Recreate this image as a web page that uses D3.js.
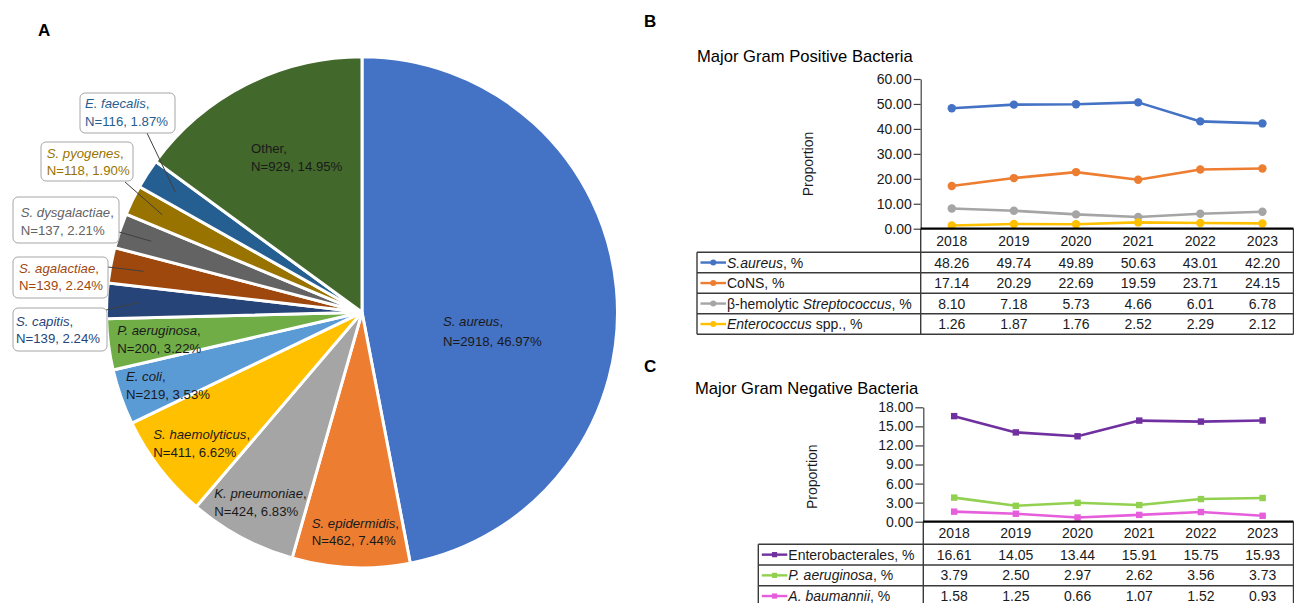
<!DOCTYPE html>
<html><head><meta charset="utf-8">
<script src="https://cdn.jsdelivr.net/npm/d3@7"></script>
<style>
body{margin:0;background:#fff;}
svg{display:block;font-family:"Liberation Sans",Arial,sans-serif;}
</style></head><body>
<svg id="chart" width="1294" height="603"></svg>
<script>
// ---------------- DATA ----------------
const pieNames = ["S. aureus","S. epidermidis","K. pneumoniae","S. haemolyticus","E. coli","P. aeruginosa","S. capitis","S. agalactiae","S. dysgalactiae","S. pyogenes","E. faecalis","Other"];
const pieCounts = [2918,462,424,411,219,200,139,139,137,118,116,929];
const piePercents = ["46.97","7.44","6.83","6.62","3.53","3.22","2.24","2.24","2.21","1.90","1.87","14.95"];
const pieItalic = [1,1,1,1,1,1,1,1,1,1,1,0];

const years = ["2018","2019","2020","2021","2022","2023"];

const gpSAureus = [48.26,49.74,49.89,50.63,43.01,42.20];
const gpCoNS = [17.14,20.29,22.69,19.59,23.71,24.15];
const gpBetaStrep = [8.10,7.18,5.73,4.66,6.01,6.78];
const gpEnterococcus = [1.26,1.87,1.76,2.52,2.29,2.12];
const gpTicks = [0,10,20,30,40,50,60];

const gnEnterobacterales = [16.61,14.05,13.44,15.91,15.75,15.93];
const gnPAeruginosa = [3.79,2.50,2.97,2.62,3.56,3.73];
const gnABaumannii = [1.58,1.25,0.66,1.07,1.52,0.93];
const gnTicks = [0,3,6,9,12,15,18];

// row labels as [text, italic] segments
const gpLabels = [
  [["S.aureus",1],[", %",0]],
  [["CoNS, %",0]],
  [["β-hemolytic ",0],["Streptococcus",1],[", %",0]],
  [["Enterococcus",1],[" spp., %",0]]
];
const gnLabels = [
  [["Enterobacterales, %",0]],
  [["P. aeruginosa",1],[", %",0]],
  [["A. baumannii",1],[", %",0]]
];

// ---------------- STYLE / LAYOUT ----------------
const pieColors = ["#4472C4","#ED7D31","#A5A5A5","#FFC000","#5B9BD5","#70AD47","#264478","#9E480E","#636363","#997300","#255E91","#43682B"];
const gpColors = ["#4472C4","#ED7D31","#A5A5A5","#FFC000"];
const gnColors = ["#7030A0","#92D050","#E65EDB"];
const textColor = "#1a1a1a";

// inside labels: [x, center line1, center line2]
const insideLabelPos = {
  0:[443,321,341], 1:[311.7,523.3,540.5], 2:[214.3,493.3,511], 3:[153.3,434,452],
  4:[126,376.7,394.5], 5:[117.3,330,348], 11:[251,148.3,166.7]
};
// callouts: box [x,y,w,h], text x, centers, leader start
const calloutPos = {
  10:{box:[80,93,95,40], tx:85, c:[103.3,121.7], ls:[147,133]},
  9:{box:[41,142,92,39], tx:46.7, c:[153.3,170.7], ls:[125,182]},
  8:{box:[13,197,106,46], tx:20.7, c:[212.3,230], ls:[119,232]},
  7:{box:[13,257,95,41], tx:19, c:[268.3,285], ls:[108,267]},
  6:{box:[13,308,94,43], tx:16, c:[321.7,338.3], ls:[106,310]}
};

const svg = d3.select("#chart");

// panel letters
[["A",38,36],["B",644,27],["C",644,372]].forEach(([t,x,y])=>{
  svg.append("text").attr("x",x).attr("y",y).attr("font-size",17).attr("font-weight","bold").attr("fill","#000").text(t);
});

// ---------------- PIE ----------------
const cx = 362, cy = 312.3, R = 255.5;
const pie = d3.pie().sort(null).value(d=>d)(pieCounts);
const arc = d3.arc().innerRadius(0).outerRadius(R);
const gPie = svg.append("g").attr("transform",`translate(${cx},${cy})`);
gPie.selectAll("path").data(pie).join("path")
  .attr("d",arc).attr("fill",(d,i)=>pieColors[i])
  .attr("stroke","#fff").attr("stroke-width",3).attr("stroke-linejoin","miter");

function twoLine(g, x, c1, c2, i, color, fs){
  const t1 = g.append("text").attr("x",x).attr("y",c1+4.7).attr("font-size",fs).attr("fill",color);
  if (pieItalic[i]) { t1.append("tspan").attr("font-style","italic").text(pieNames[i]); t1.append("tspan").text(","); }
  else t1.text(pieNames[i]+",");
  g.append("text").attr("x",x).attr("y",c2+4.7).attr("font-size",fs).attr("fill",color)
    .text(`N=${pieCounts[i]}, ${piePercents[i]}%`);
}
Object.entries(insideLabelPos).forEach(([k,p])=>{
  twoLine(svg, p[0], p[1], p[2], +k, textColor, 13.2);
});
Object.entries(calloutPos).forEach(([k,p])=>{
  const i = +k;
  const d = pie[i];
  const a = (d.startAngle+d.endAngle)/2;
  const rr = R*0.87;
  const ex = cx + rr*Math.sin(a), ey = cy - rr*Math.cos(a);
  svg.append("line").attr("x1",p.ls[0]).attr("y1",p.ls[1]).attr("x2",ex).attr("y2",ey)
    .attr("stroke","#404040").attr("stroke-width",1);
  svg.append("rect").attr("x",p.box[0]).attr("y",p.box[1]).attr("width",p.box[2]).attr("height",p.box[3])
    .attr("rx",5).attr("fill","#fff").attr("stroke","#a6a6a6").attr("stroke-width",1);
  twoLine(svg, p.tx, p.c[0], p.c[1], i, pieColors[i], 13.2);
});

// ---------------- LINE + TABLE PANELS ----------------
function panel(cfg){
  const g = svg.append("g");
  g.append("text").attr("x",cfg.titleX).attr("y",cfg.titleY).attr("font-size",16.6).attr("fill","#000").text(cfg.title);
  const x = d3.scaleBand().domain(years).range([cfg.x0,cfg.x1]).paddingInner(0).paddingOuter(0);
  const y = d3.scaleLinear().domain([0,cfg.ticks[cfg.ticks.length-1]]).range([cfg.y0,cfg.y1]);
  const xc = d => x(d)+x.bandwidth()/2;

  // y axis
  const ax = g.append("g").attr("transform",`translate(${cfg.x0},0)`)
    .call(d3.axisLeft(y).tickValues(cfg.ticks).tickFormat(d3.format(".2f")).tickSize(cfg.tickSize).tickSizeOuter(0).tickPadding(2));
  ax.select(".domain").attr("stroke","#404040").attr("stroke-width",1.2);
  ax.selectAll(".tick line").attr("stroke","#404040").attr("stroke-width",1.2);
  ax.selectAll(".tick text").attr("font-size",14).attr("fill",textColor).attr("font-family","Liberation Sans, Arial, sans-serif");

  g.append("text").attr("transform",`translate(${cfg.propX},${cfg.propY}) rotate(-90)`)
    .attr("text-anchor","middle").attr("dominant-baseline","central").attr("font-size",14).attr("fill",textColor).text("Proportion");

  // series
  cfg.series.forEach((vals,si)=>{
    const pts = years.map((yr,j)=>[xc(yr), y(vals[j])]);
    g.append("path").attr("d",d3.line()(pts)).attr("fill","none").attr("stroke",cfg.colors[si])
      .attr("stroke-width",2.6).attr("stroke-linejoin","round");
    if (cfg.marker==="circle"){
      g.selectAll(null).data(pts).join("circle").attr("cx",d=>d[0]).attr("cy",d=>d[1]).attr("r",4.2).attr("fill",cfg.colors[si]);
    } else {
      g.selectAll(null).data(pts).join("rect").attr("x",d=>d[0]-3.2).attr("y",d=>d[1]-3.2).attr("width",6.4).attr("height",6.4).attr("fill",cfg.colors[si]);
    }
  });

  // table
  const hdrBot = cfg.y0 + cfg.hdrH;
  const nRows = cfg.series.length;
  const rowY = i => hdrBot + i*cfg.rowH;
  const lineCol = "#3a3a3a";
  years.forEach(yr=>{
    g.append("text").attr("x",xc(yr)).attr("y",cfg.y0+cfg.hdrH/2+5).attr("text-anchor","middle")
      .attr("font-size",14).attr("fill",textColor).text(yr);
  });
  for (let i=0;i<=nRows;i++){
    g.append("line").attr("x1",cfg.tableX0).attr("x2",cfg.x1).attr("y1",rowY(i)).attr("y2",rowY(i))
      .attr("stroke",lineCol).attr("stroke-width",1.4);
  }
  g.append("line").attr("x1",cfg.x0).attr("x2",cfg.x0).attr("y1",cfg.y0).attr("y2",rowY(nRows)).attr("stroke",lineCol).attr("stroke-width",1.4);
  g.append("line").attr("x1",cfg.x1).attr("x2",cfg.x1).attr("y1",cfg.y0).attr("y2",rowY(nRows)).attr("stroke",lineCol).attr("stroke-width",1.4);
  g.append("line").attr("x1",cfg.tableX0).attr("x2",cfg.tableX0).attr("y1",hdrBot).attr("y2",rowY(nRows)).attr("stroke",lineCol).attr("stroke-width",1.4);
  // x axis line (top of table)
  g.append("line").attr("x1",cfg.x0).attr("x2",cfg.x1).attr("y1",cfg.y0).attr("y2",cfg.y0).attr("stroke","#000").attr("stroke-width",2.2);

  cfg.series.forEach((vals,si)=>{
    const cyr = rowY(si)+cfg.rowH/2;
    // legend key
    const lx0 = cfg.tableX0+3.5, lx1 = cfg.tableX0+29;
    g.append("line").attr("x1",lx0).attr("x2",lx1).attr("y1",cyr).attr("y2",cyr).attr("stroke",cfg.colors[si]).attr("stroke-width",2.4);
    const mx = (lx0+lx1)/2;
    if (cfg.marker==="circle") g.append("circle").attr("cx",mx).attr("cy",cyr).attr("r",3).attr("fill",cfg.colors[si]);
    else g.append("rect").attr("x",mx-2.6).attr("y",cyr-2.6).attr("width",5.2).attr("height",5.2).attr("fill",cfg.colors[si]);
    const t = g.append("text").attr("x",cfg.tableX0+30).attr("y",cyr+5).attr("font-size",14).attr("fill",textColor);
    cfg.labels[si].forEach(([s,it])=>{ const sp=t.append("tspan").text(s); if(it) sp.attr("font-style","italic"); });
    years.forEach((yr,j)=>{
      g.append("text").attr("x",xc(yr)).attr("y",cyr+5).attr("text-anchor","middle").attr("font-size",14).attr("fill",textColor)
        .text(vals[j].toFixed(2));
    });
  });
}

panel({
  title:"Major Gram Positive Bacteria", titleX:697, titleY:62,
  x0:920.7, x1:1293.5, y0:228.7, y1:79, ticks:gpTicks, tickSize:7,
  propX:808, propY:164,
  series:[gpSAureus,gpCoNS,gpBetaStrep,gpEnterococcus], colors:gpColors, labels:gpLabels, marker:"circle",
  tableX0:697, hdrH:23.6, rowH:20.5
});
panel({
  title:"Major Gram Negative Bacteria", titleX:695, titleY:393.5,
  x0:923.3, x1:1293.5, y0:521.7, y1:407.3, ticks:gnTicks, tickSize:8,
  propX:811.7, propY:476.7,
  series:[gnEnterobacterales,gnPAeruginosa,gnABaumannii], colors:gnColors, labels:gnLabels, marker:"square",
  tableX0:758.3, hdrH:22.6, rowH:20.7
});
</script>
</body></html>
